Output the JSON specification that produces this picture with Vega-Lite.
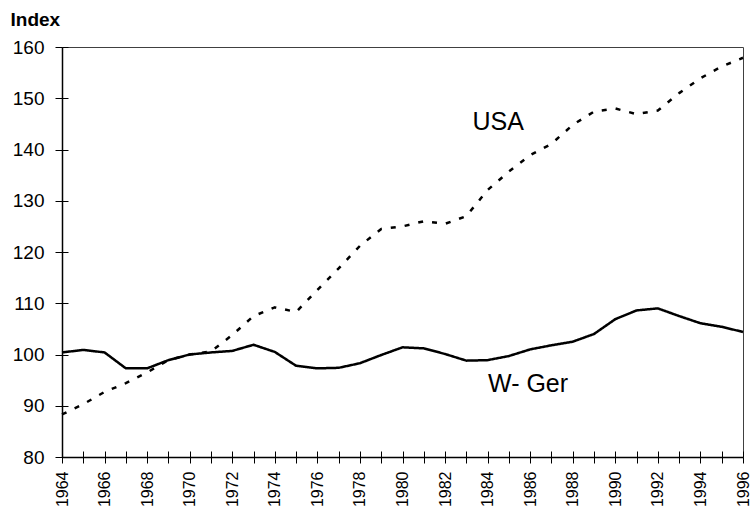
{
  "$schema": "https://vega.github.io/schema/vega-lite/v6.json",
  "width": 681,
  "height": 410,
  "autosize": {"type": "none"},
  "padding": {"left": 62, "top": 47, "right": 7, "bottom": 54},
  "background": "white",
  "config": {
    "view": {"stroke": "#404040", "strokeWidth": 1},
    "font": "Liberation Sans"
  },
  "datasets": {
    "series": [
      {"year": 1964, "country": "W- Ger", "value": 100.4},
      {"year": 1965, "country": "W- Ger", "value": 100.9},
      {"year": 1966, "country": "W- Ger", "value": 100.4},
      {"year": 1967, "country": "W- Ger", "value": 97.3},
      {"year": 1968, "country": "W- Ger", "value": 97.3},
      {"year": 1969, "country": "W- Ger", "value": 98.9},
      {"year": 1970, "country": "W- Ger", "value": 100.0},
      {"year": 1971, "country": "W- Ger", "value": 100.4},
      {"year": 1972, "country": "W- Ger", "value": 100.7},
      {"year": 1973, "country": "W- Ger", "value": 101.9},
      {"year": 1974, "country": "W- Ger", "value": 100.5},
      {"year": 1975, "country": "W- Ger", "value": 97.8},
      {"year": 1976, "country": "W- Ger", "value": 97.3},
      {"year": 1977, "country": "W- Ger", "value": 97.4},
      {"year": 1978, "country": "W- Ger", "value": 98.3},
      {"year": 1979, "country": "W- Ger", "value": 99.9},
      {"year": 1980, "country": "W- Ger", "value": 101.4},
      {"year": 1981, "country": "W- Ger", "value": 101.2},
      {"year": 1982, "country": "W- Ger", "value": 100.1},
      {"year": 1983, "country": "W- Ger", "value": 98.8},
      {"year": 1984, "country": "W- Ger", "value": 98.9},
      {"year": 1985, "country": "W- Ger", "value": 99.7},
      {"year": 1986, "country": "W- Ger", "value": 101.0},
      {"year": 1987, "country": "W- Ger", "value": 101.8},
      {"year": 1988, "country": "W- Ger", "value": 102.5},
      {"year": 1989, "country": "W- Ger", "value": 104.0},
      {"year": 1990, "country": "W- Ger", "value": 106.9},
      {"year": 1991, "country": "W- Ger", "value": 108.6},
      {"year": 1992, "country": "W- Ger", "value": 109.0},
      {"year": 1993, "country": "W- Ger", "value": 107.5},
      {"year": 1994, "country": "W- Ger", "value": 106.1},
      {"year": 1995, "country": "W- Ger", "value": 105.4},
      {"year": 1996, "country": "W- Ger", "value": 104.4},
      {"year": 1964, "country": "USA", "value": 88.3},
      {"year": 1965, "country": "USA", "value": 90.3},
      {"year": 1966, "country": "USA", "value": 92.7},
      {"year": 1967, "country": "USA", "value": 94.4},
      {"year": 1968, "country": "USA", "value": 96.5},
      {"year": 1969, "country": "USA", "value": 98.9},
      {"year": 1970, "country": "USA", "value": 100.0},
      {"year": 1971, "country": "USA", "value": 100.6},
      {"year": 1972, "country": "USA", "value": 103.8},
      {"year": 1973, "country": "USA", "value": 107.5},
      {"year": 1974, "country": "USA", "value": 109.2},
      {"year": 1975, "country": "USA", "value": 108.3},
      {"year": 1976, "country": "USA", "value": 112.6},
      {"year": 1977, "country": "USA", "value": 116.8},
      {"year": 1978, "country": "USA", "value": 121.2},
      {"year": 1979, "country": "USA", "value": 124.5},
      {"year": 1980, "country": "USA", "value": 125.0},
      {"year": 1981, "country": "USA", "value": 126.0},
      {"year": 1982, "country": "USA", "value": 125.5},
      {"year": 1983, "country": "USA", "value": 127.0},
      {"year": 1984, "country": "USA", "value": 132.1},
      {"year": 1985, "country": "USA", "value": 135.7},
      {"year": 1986, "country": "USA", "value": 138.9},
      {"year": 1987, "country": "USA", "value": 141.1},
      {"year": 1988, "country": "USA", "value": 144.8},
      {"year": 1989, "country": "USA", "value": 147.4},
      {"year": 1990, "country": "USA", "value": 148.0},
      {"year": 1991, "country": "USA", "value": 146.9},
      {"year": 1992, "country": "USA", "value": 147.6},
      {"year": 1993, "country": "USA", "value": 151.0},
      {"year": 1994, "country": "USA", "value": 153.9},
      {"year": 1995, "country": "USA", "value": 156.2},
      {"year": 1996, "country": "USA", "value": 157.9}
    ],
    "labels": [
      {"year": 1984.5, "value": 145.4, "label": "USA"},
      {"year": 1985.9, "value": 94.2, "label": "W- Ger"}
    ]
  },
  "resolve": {"axis": {"x": "independent", "y": "independent"}},
  "layer": [
    {
      "data": {"name": "series"},
      "mark": {"type": "line", "interpolate": "linear", "color": "black", "strokeWidth": 2.5, "strokeJoin": "round"},
      "encoding": {
        "x": {
          "field": "year", "type": "quantitative",
          "scale": {"domain": [1964, 1996], "nice": false, "zero": false},
          "axis": {
            "orient": "bottom",
            "title": null,
            "values": [1964,1965,1966,1967,1968,1969,1970,1971,1972,1973,1974,1975,1976,1977,1978,1979,1980,1981,1982,1983,1984,1985,1986,1987,1988,1989,1990,1991,1992,1993,1994,1995,1996],
            "labelExpr": "datum.value % 2 == 0 ? datum.label : ''",
            "format": "d",
            "labelAngle": 270,
            "labelFont": "Liberation Sans",
            "labelFontSize": 16,
            "labelColor": "black",
            "labelPadding": 8,
            "labelOverlap": false,
            "labelFlush": false,
            "labelBound": false,
            "grid": false,
            "domainColor": "black",
            "domainWidth": 1.5,
            "tickColor": "black",
            "tickWidth": 1,
            "tickSize": 6
          }
        },
        "y": {
          "field": "value", "type": "quantitative",
          "scale": {"domain": [80, 160], "nice": false, "zero": false},
          "axis": {
            "orient": "left",
            "values": [80, 90, 100, 110, 120, 130, 140, 150, 160],
            "title": "Index",
            "titleAngle": 0,
            "titleAlign": "left",
            "titleBaseline": "alphabetic",
            "titleX": -52,
            "titleY": -22,
            "titleFont": "Liberation Sans",
            "titleFontSize": 19,
            "titleFontWeight": "bold",
            "titleColor": "black",
            "labelFont": "Liberation Sans",
            "labelFontSize": 19,
            "labelColor": "black",
            "labelPadding": 11,
            "labelFlush": false,
            "grid": false,
            "domainColor": "black",
            "domainWidth": 1.5,
            "tickColor": "black",
            "tickWidth": 1,
            "tickSize": 7
          }
        },
        "detail": {"field": "country"},
        "strokeDash": {
          "field": "country", "type": "nominal",
          "scale": {"domain": ["W- Ger", "USA"], "range": [[1, 0], [5, 9]]},
          "legend": null
        },
        "strokeWidth": {
          "field": "country", "type": "nominal",
          "scale": {"domain": ["W- Ger", "USA"], "range": [2.5, 3]},
          "legend": null
        }
      }
    },
    {
      "data": {"name": "labels"},
      "mark": {"type": "text", "font": "Liberation Sans", "fontSize": 25, "color": "black", "align": "center", "baseline": "middle"},
      "encoding": {
        "x": {
          "field": "year", "type": "quantitative",
          "scale": {"domain": [1964, 1996], "nice": false, "zero": false},
          "axis": {
            "orient": "bottom", "title": null, "labels": false, "domain": false, "grid": false,
            "values": [1964,1965,1966,1967,1968,1969,1970,1971,1972,1973,1974,1975,1976,1977,1978,1979,1980,1981,1982,1983,1984,1985,1986,1987,1988,1989,1990,1991,1992,1993,1994,1995,1996],
            "tickColor": "black", "tickWidth": 1, "tickSize": -6
          }
        },
        "y": {
          "field": "value", "type": "quantitative",
          "scale": {"domain": [80, 160], "nice": false, "zero": false},
          "axis": {
            "orient": "left", "title": null, "labels": false, "domain": false, "grid": false,
            "values": [80, 90, 100, 110, 120, 130, 140, 150, 160],
            "tickColor": "black", "tickWidth": 1, "tickSize": -6
          }
        },
        "text": {"field": "label"}
      }
    }
  ]
}
